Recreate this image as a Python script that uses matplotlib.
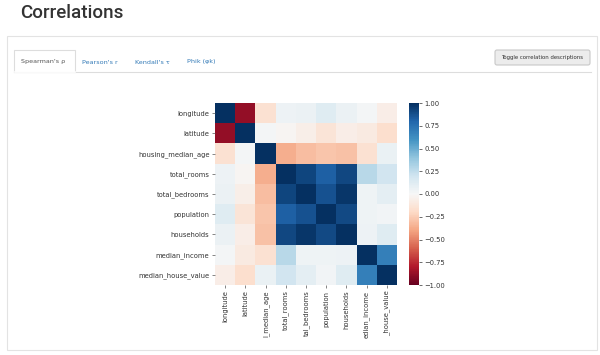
import numpy as np
import matplotlib
matplotlib.use("Agg")
import matplotlib.pyplot as plt
from matplotlib.patches import Rectangle, FancyBboxPatch

variables = ["longitude", "latitude", "housing_median_age", "total_rooms",
             "total_bedrooms", "population", "households", "median_income",
             "median_house_value"]
x_labels = ["longitude", "latitude", "l_median_age", "total_rooms",
            "tal_bedrooms", "population", "households", "edian_income",
            "_house_value"]

# upper triangle of Spearman correlations (row i, columns i+1..)
upper = [
    [-0.88, -0.15, 0.05, 0.06, 0.12, 0.06, 0.02, -0.07],
    [0.02, -0.02, -0.06, -0.13, -0.07, -0.09, -0.17],
    [-0.36, -0.31, -0.28, -0.29, -0.15, 0.07],
    [0.92, 0.82, 0.91, 0.28, 0.19],
    [0.87, 0.97, 0.04, 0.10],
    [0.90, 0.04, 0.03],
    [0.05, 0.12],
    [0.68],
]
cbar_ticks = [1.00, 0.75, 0.50, 0.25, 0.00, -0.25, -0.50, -0.75, -1.00]
tabs = ["Spearman's ρ", "Pearson's r", "Kendall's τ", "Phik (φk)"]

n = len(variables)
corr = np.eye(n)
for i, row in enumerate(upper):
    for k, v in enumerate(row):
        j = i + 1 + k
        corr[i, j] = v
        corr[j, i] = v

W, H = 600, 355
fig = plt.figure(figsize=(W / 100, H / 100), dpi=100)
bg = fig.add_axes([0, 0, 1, 1])
bg.set_xlim(0, W)
bg.set_ylim(H, 0)
bg.axis("off")

bg.text(20, 13, "Correlations", fontsize=13.5, color="#333333", weight="medium",
        family="Roboto", va="center", ha="left")
# outer panel
bg.add_patch(Rectangle((7, 36), 590, 314, fill=False, ec="#e3e3e3", lw=0.8))
# tab underline
bg.plot([14, 591], [72, 72], color="#dddddd", lw=0.8)
# active tab
bg.add_patch(Rectangle((14, 50), 61, 22, fc="white", ec="#dddddd", lw=0.8))
bg.plot([14.5, 74.5], [72, 72], color="white", lw=1.2)
tab_x = [43, 100, 152, 201]
for t, x, c in zip(tabs, tab_x, ["#555555", "#337ab7", "#337ab7", "#337ab7"]):
    bg.text(x, 62, t, fontsize=4.6, color=c, family="DejaVu Sans",
            ha="center", va="center")
# toggle button
bg.add_patch(FancyBboxPatch((495, 50), 95, 15, boxstyle="round,pad=0,rounding_size=2",
                            fc="#ececec", ec="#c8c8c8", lw=0.8))
bg.text(542.5, 57.5, "Toggle correlation descriptions", fontsize=3.9,
        color="#333333", ha="center", va="center")

# heatmap
ax = fig.add_axes([215 / W, 1 - 285 / H, 182 / W, 182 / H])
im = ax.imshow(corr, cmap="RdBu", vmin=-1, vmax=1, aspect="auto",
               interpolation="nearest")
ax.set_xticks(range(n))
ax.set_yticks(range(n))
ax.set_xticklabels(x_labels, rotation=90, fontsize=4.9, color="#333333")
ax.set_yticklabels(variables, fontsize=4.9, color="#333333")
ax.tick_params(length=2, width=0.5, color="#555555", pad=2)
for s in ax.spines.values():
    s.set_visible(False)

cax = fig.add_axes([409 / W, 1 - 285 / H, 10 / W, 182 / H])
cb = fig.colorbar(im, cax=cax, ticks=cbar_ticks)
cb.outline.set_visible(False)
cb.ax.set_yticklabels([f"{t:.2f}".replace("-", "\u2212") for t in cbar_ticks])
cb.ax.tick_params(labelsize=4.9, length=2, width=0.5, pad=2, colors="#333333")

fig.savefig("out.png", dpi=100, facecolor="white")
